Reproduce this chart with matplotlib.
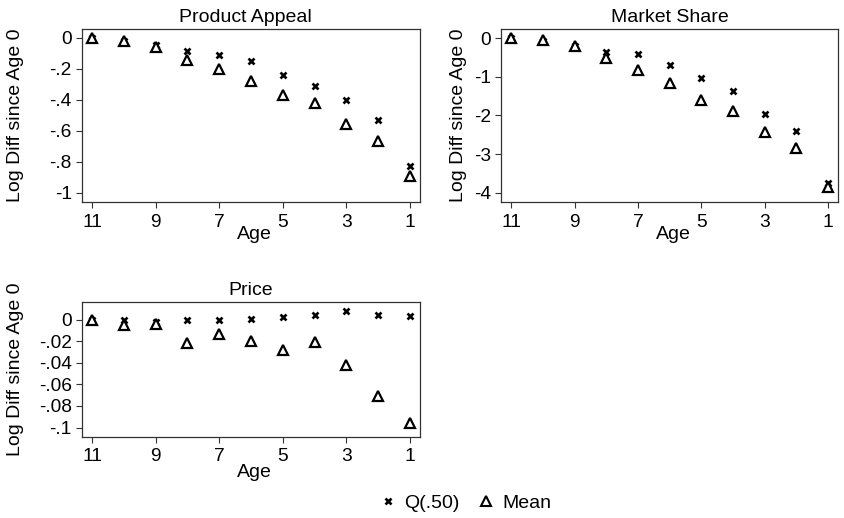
import matplotlib
matplotlib.use("Agg")
import matplotlib.pyplot as plt
from matplotlib.lines import Line2D

plt.rcParams['font.family'] = ['Liberation Sans', 'DejaVu Sans']

ages = [11, 10, 9, 8, 7, 6, 5, 4, 3, 2, 1]

appeal_q50 = [0, -0.02, -0.05, -0.086, -0.110, -0.153, -0.239, -0.310, -0.404, -0.533, -0.828]
appeal_mean = [0, -0.0215, -0.060, -0.142, -0.200, -0.280, -0.372, -0.421, -0.555, -0.667, -0.892]

share_q50 = [0, -0.06, -0.19, -0.35, -0.41, -0.69, -1.04, -1.37, -1.96, -2.40, -3.76]
share_mean = [0, -0.04, -0.19, -0.52, -0.82, -1.17, -1.60, -1.88, -2.42, -2.83, -3.86]

price_q50 = [0, -0.0006, -0.002, -0.0006, -0.0006, 0.0009, 0.0019, 0.0046, 0.008, 0.004, 0.0031]
price_mean = [0, -0.0052, -0.0037, -0.0213, -0.013, -0.020, -0.0284, -0.0207, -0.0423, -0.071, -0.0954]

xticks = [11, 9, 7, 5, 3, 1]
appeal_yticks = [0, -0.2, -0.4, -0.6, -0.8, -1]
appeal_ylabels = ["0", "-.2", "-.4", "-.6", "-.8", "-1"]
share_yticks = [0, -1, -2, -3, -4]
share_ylabels = ["0", "-1", "-2", "-3", "-4"]
price_yticks = [0, -0.02, -0.04, -0.06, -0.08, -0.1]
price_ylabels = ["0", "-.02", "-.04", "-.06", "-.08", "-.1"]

FS = 14
TFS = 13.8
W, H = 844, 518
fig = plt.figure(figsize=(W / 100, H / 100), dpi=100)


def make_ax(left, top, right, bottom):
    return fig.add_axes([left / W, 1 - bottom / H, (right - left) / W, (bottom - top) / H])


ax1 = make_ax(81.7, 29, 420.3, 201.7)
ax2 = make_ax(501, 29, 838.3, 201.7)
ax3 = make_ax(81.7, 301.7, 420.3, 436.5)

panels = [
    (ax1, "Product Appeal", appeal_q50, appeal_mean, appeal_yticks, appeal_ylabels, (-1.058, 0.056), -0.1704, 0.482, -0.143),
    (ax2, "Market Share", share_q50, share_mean, share_yticks, share_ylabels, (-4.233, 0.24), -0.0999, 0.5, -0.143),
    (ax3, "Price", price_q50, price_mean, price_yticks, price_ylabels, (-0.1083, 0.0165), -0.1704, 0.5, -0.207),
]

for ax, title, q, m, yt, yl, ylim, ylx, tx, xly in panels:
    ax.plot(ages, q, linestyle='none', marker='x', ms=5, mew=1.9, color='black', zorder=3)
    ax.plot(ages, m, linestyle='none', marker='^', ms=7.5, mew=1.6, mfc='white', mec='black', zorder=4)
    ax.set_xlim(11.33, 0.67)
    ax.set_ylim(*ylim)
    ax.set_xticks(xticks)
    ax.set_xticklabels([str(v) for v in xticks], fontsize=TFS)
    ax.set_yticks(yt)
    ax.set_yticklabels(yl, fontsize=TFS)
    ax.tick_params(axis='x', direction='out', length=4.5, width=0.8, pad=4.0, color='#333333')
    ax.tick_params(axis='y', direction='out', length=4.2, width=0.8, pad=3.0, color='#333333')
    for s in ax.spines.values():
        s.set_linewidth(0.9)
        s.set_color('#333333')
    ax.set_title(title, fontsize=FS, pad=5, x=tx)
    ax.set_ylabel("Log Diff since Age 0", fontsize=FS)
    ax.yaxis.set_label_coords(ylx, 0.5)
    ax.set_xlabel("Age", fontsize=FS)
    ax.xaxis.set_label_coords(0.51, xly)

handles = [
    Line2D([], [], linestyle='none', marker='x', ms=5, mew=1.9, color='black'),
    Line2D([], [], linestyle='none', marker='^', ms=7, mew=1.5, mfc='white', mec='black'),
]
fig.legend(handles, ["Q(.50)", "Mean"], loc='center', bbox_to_anchor=(465.5 / W, 1 - 503 / H),
           ncol=2, frameon=False, fontsize=FS, handlelength=0.9, handletextpad=0.4,
           columnspacing=0.9, borderpad=0)

fig.savefig("out.png", dpi=100, facecolor='white')
